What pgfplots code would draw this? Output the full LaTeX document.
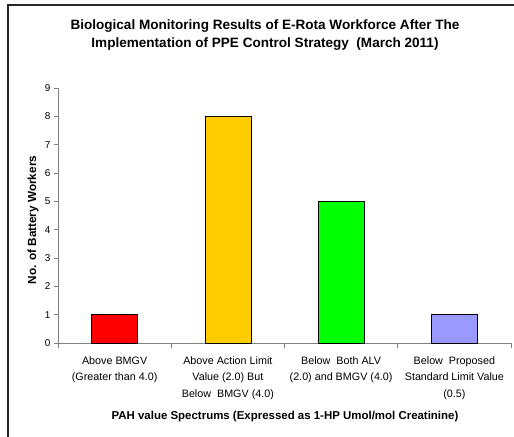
\documentclass[border=0pt]{standalone}
\usepackage{pgfplots}
\pgfplotsset{compat=1.18}
\usepackage{fontspec}
\setmainfont{Liberation Sans}
\definecolor{axgray}{HTML}{808080}
\definecolor{cred}{HTML}{FF0000}
\definecolor{cyel}{HTML}{FFCC00}
\definecolor{cgrn}{HTML}{00FF00}
\definecolor{cblu}{HTML}{9999FF}
\begin{document}
\begin{tikzpicture}
\path[use as bounding box] (0,0) rectangle (514bp,437bp);
\draw[line width=1.4bp, black!85] (8bp,-10bp) rectangle (530bp,432bp);
\begin{axis}[
  at={(58bp,94bp)}, anchor=south west,
  scale only axis, width=453bp, height=255bp,
  xmin=0.5, xmax=4.5, ymin=0, ymax=9,
  axis x line=bottom, axis y line=left,
  axis line style={-, axgray, line width=0.8bp},
  ytick={0,1,...,9},
  xtick={1,2,3,4},
  xticklabels={{Above BMGV\\(Greater than 4.0)},{Above Action Limit\\Value (2.0) But\\Below\ \ BMGV (4.0)},{Below\ \ Both ALV\\(2.0) and BMGV (4.0)},{Below\ \ Proposed\\Standard Limit Value\\(0.5)}},
  minor xtick={0.5,1.5,2.5,3.5,4.5},
  tick align=outside,
  major tick length=4bp, minor tick length=5bp,
  major x tick style={draw=none},
  minor x tick style={draw=axgray, line width=0.8bp},
  y tick style={draw=axgray, line width=0.8bp},
  xticklabel style={align=center, font=\fontsize{10.8}{16.7}\selectfont, yshift=-6bp},
  yticklabel style={font=\fontsize{10}{11}\selectfont},
  /pgf/number format/assume math mode=true,
  ybar, bar width=46bp, bar shift=0pt,
  clip=false,
]
\addplot[fill=cred, draw=black, line width=0.6bp] coordinates {(1,1)};
\addplot[fill=cyel, draw=black, line width=0.6bp] coordinates {(2,8)};
\addplot[fill=cgrn, draw=black, line width=0.6bp] coordinates {(3,5)};
\addplot[fill=cblu, draw=black, line width=0.6bp] coordinates {(4,1)};
\end{axis}
\node[font=\fontsize{13.6}{18}\selectfont\bfseries, align=center] at (265bp,402bp)
  {Biological Monitoring Results of E-Rota Workforce After The\\Implementation of PPE Control Strategy\ \ (March 2011)};
\node[font=\fontsize{11.5}{13}\selectfont\bfseries] at (285bp,20bp)
  {PAH value Spectrums (Expressed as 1-HP Umol/mol Creatinine)};
\node[font=\fontsize{11.8}{13}\selectfont\bfseries, rotate=90] at (33bp,217bp)
  {No. of Battery Workers};
\end{tikzpicture}
\end{document}
